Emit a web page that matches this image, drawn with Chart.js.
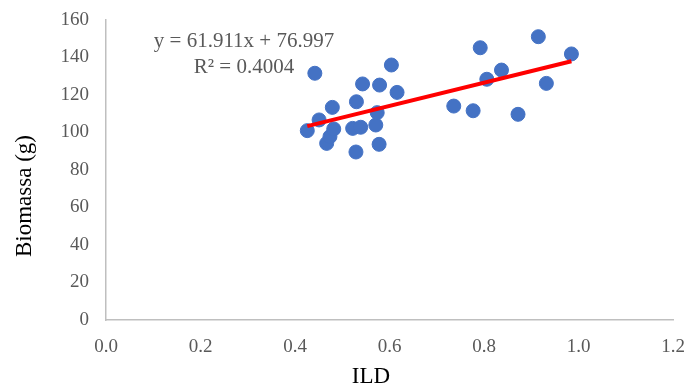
<!DOCTYPE html>
<html>
<head>
<meta charset="utf-8">
<script src="https://cdn.jsdelivr.net/npm/chart.js@4.4.0/dist/chart.umd.min.js"></script>
<style>
  html, body { margin: 0; padding: 0; background: #fff; }
  #wrap { width: 688px; height: 389px; }
</style>
</head>
<body>
<div id="wrap"><canvas id="chart1"></canvas></div>
<script>
// valores
const ildValues = [0.426, 0.442, 0.451, 0.467, 0.474, 0.479, 0.482, 0.522, 0.529, 0.530, 0.539, 0.543, 0.571, 0.574, 0.578, 0.579, 0.604, 0.616,
                   0.736, 0.777, 0.792, 0.806, 0.837, 0.872, 0.915, 0.932, 0.985];
const biomassValues = [101.0, 131.6, 106.7, 94.2, 97.8, 113.4, 101.9, 102.2, 89.6, 116.4, 102.8, 125.9, 104.0, 110.6, 93.7, 125.3, 136.0, 121.4,
                       114.1, 111.6, 145.2, 128.4, 133.3, 109.7, 151.1, 126.2, 141.9];
const xTicks = [0, 0.2, 0.4, 0.6, 0.8, 1.0, 1.2];
const yTicks = [0, 20, 40, 60, 80, 100, 120, 140, 160];
const slope = 61.911;
const intercept = 76.997;
const eqLabel = 'y = 61.911x + 76.997';
const r2Label = 'R² = 0.4004';
const xTitle = 'ILD';
const yTitle = 'Biomassa (g)';

const points = ildValues.map((x, i) => ({ x: x, y: biomassValues[i] }));
const xMin = Math.min(...ildValues);
const xMax = Math.max(...ildValues);
const trend = [xMin, xMax].map(x => ({ x: x, y: slope * x + intercept }));

// ecuación y títulos de ejes
const textPlugin = {
  id: 'extraText',
  afterDraw(chart) {
    const ctx = chart.ctx;
    ctx.save();
    ctx.textAlign = 'center';
    ctx.textBaseline = 'middle';
    ctx.fillStyle = '#595959';
    ctx.font = '21px "Liberation Serif"';
    ctx.fillText(eqLabel, 244, 41);
    ctx.fillText(r2Label, 244, 67);

    ctx.fillStyle = '#000';
    ctx.font = '23px "Liberation Serif"';
    ctx.fillText(xTitle, 371, 377);
    ctx.translate(25, 196);
    ctx.rotate(-Math.PI / 2);
    ctx.fillText(yTitle, 0, 0);
    ctx.restore();
  }
};

const ctx1 = document.getElementById('chart1').getContext('2d');
new Chart(ctx1, {
  data: {
    datasets: [{
      type: 'line',
      data: trend,
      borderColor: '#ff0000',
      borderWidth: 4,
      pointRadius: 0,
      order: 0
    }, {
      type: 'scatter',
      data: points,
      backgroundColor: '#4472c4',
      borderColor: '#4472c4',
      borderWidth: 1,
      pointRadius: 7,
      order: 1
    }]
  },
  options: {
    responsive: true,
    maintainAspectRatio: false,
    animation: false,
    layout: { padding: { left: 0, right: 15, top: 20, bottom: 0 } },
    plugins: {
      legend: { display: false },
      tooltip: { enabled: false }
    },
    scales: {
      x: {
        type: 'linear',
        min: 0, max: 1.2,
        afterBuildTicks: s => { s.ticks = xTicks.map(v => ({ value: v })); },
        afterFit: s => { s.height = 69; s.paddingLeft = 0; s.paddingRight = 0; },
        grid: { display: false, drawTicks: false },
        border: { display: true, color: '#bfbfbf', width: 1.5 },
        ticks: {
          color: '#595959',
          font: { family: 'Liberation Serif', size: 19 },
          padding: 16,
          maxRotation: 0,
          callback: v => Number(v).toFixed(1)
        }
      },
      y: {
        min: 0, max: 160,
        afterBuildTicks: s => { s.ticks = yTicks.map(v => ({ value: v })); },
        afterFit: s => { s.width = 106; s.paddingTop = 0; s.paddingBottom = 0; },
        grid: { display: false, drawTicks: false },
        border: { display: true, color: '#bfbfbf', width: 1.5 },
        ticks: {
          color: '#595959',
          font: { family: 'Liberation Serif', size: 19 },
          padding: 17
        }
      }
    }
  },
  plugins: [textPlugin]
});
</script>
</body>
</html>
